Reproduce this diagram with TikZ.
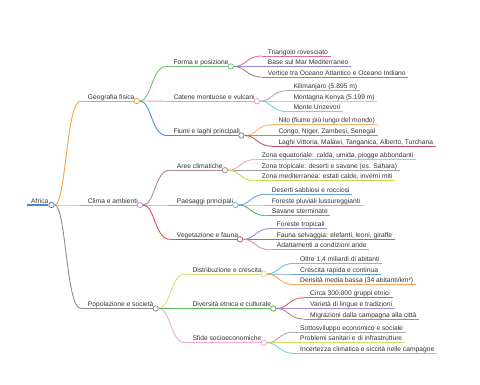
\documentclass[tikz,border=0pt]{standalone}
\usepackage{fontspec}
\setmainfont{Liberation Sans}
\usetikzlibrary{calc}
\definecolor{txt}{HTML}{333333}
\definecolor{cRoot}{HTML}{4A86C8}
\definecolor{cGeo}{HTML}{F4A442}
\definecolor{cCli}{HTML}{C49BD9}
\definecolor{cPop}{HTML}{8C8C8C}
\definecolor{cFor}{HTML}{72C070}
\definecolor{cCat}{HTML}{E89AD8}
\definecolor{cFiu}{HTML}{4C8FD0}
\definecolor{cAre}{HTML}{B08890}
\definecolor{cPae}{HTML}{5CC8E0}
\definecolor{cVeg}{HTML}{D9534F}
\definecolor{cDis}{HTML}{D8E07A}
\definecolor{cDiv}{HTML}{5CB85C}
\definecolor{cSfi}{HTML}{F0A8D8}
\definecolor{lA}{HTML}{E0708A}
\definecolor{lB}{HTML}{9D86D8}
\definecolor{lC}{HTML}{A08585}
\definecolor{lD}{HTML}{AAAAAA}
\definecolor{lE}{HTML}{D2D86A}
\definecolor{lF}{HTML}{70D8E0}
\definecolor{lG}{HTML}{F6B46E}
\definecolor{lH}{HTML}{5CB85C}
\definecolor{lI}{HTML}{C8506A}
\definecolor{lJ}{HTML}{F2A6C8}
\definecolor{lK}{HTML}{9E9E9E}
\definecolor{lL}{HTML}{C8DC50}
\definecolor{lM}{HTML}{6AA4DC}
\definecolor{lN}{HTML}{F5A35A}
\definecolor{lO}{HTML}{5CB85C}
\definecolor{lP}{HTML}{9C8FDC}
\definecolor{lQ}{HTML}{A0708C}
\definecolor{lR}{HTML}{E58AA8}
\definecolor{lS}{HTML}{5FC9E3}
\definecolor{lT}{HTML}{6A9EC8}
\definecolor{lU}{HTML}{F6A860}
\definecolor{lV}{HTML}{E05A64}
\definecolor{lW}{HTML}{A88AD8}
\definecolor{lX}{HTML}{A48898}
\definecolor{lY}{HTML}{ABABAB}
\definecolor{lZ}{HTML}{D4DE62}
\definecolor{lAA}{HTML}{72D2E4}
\tikzset{
  lbl/.style={font=\fontsize{6.7}{8}\selectfont, text=txt, inner sep=0pt, anchor=base west},
  dot/.style={circle, draw=#1, fill=white, inner sep=0pt, minimum size=5.4pt, line width=0.8pt},
  ln/.style={draw=#1, line width=0.9pt},
}
% name, textx, liney, circx, color, text
\newcommand{\mmnode}[6]{%
  \coordinate (#1s) at (#2-7,#3);
  \node[lbl] (#1t) at (#2,#3-2.0) {#6};
  \node[dot=#5] (#1) at (#4,#3) {};
  \draw[ln=#5] (#1s) -- (#1);
}
% name, textx, liney, color, text
\newcommand{\mmleaf}[5]{%
  \coordinate (#1s) at (#2-6.2,#3);
  \node[lbl] (#1t) at (#2,#3-2.0) {#5};
  \coordinate (#1e) at ($(#1t.east |- #1s)+(2.5,0)$);
  \draw[ln=#4] (#1s) -- (#1e);
}
% from, to, color
\newcommand{\mmlink}[3]{%
  \coordinate (mmm) at ($(#1)!0.5!(#2s)$);
  \draw[ln=#3] (#1) .. controls (mmm |- #1) and (mmm |- #2s) .. (#2s);
}
\begin{document}
\begin{tikzpicture}[x=1pt,y=-1pt]
\useasboundingbox (0,0) rectangle (480,384);
% root
\coordinate (roots) at (27.3,205);
\node[lbl] (roott) at (31,203) {Africa};
\node[dot=cRoot] (root) at (51.5,205) {};
\draw[ln=cRoot, line width=1.2pt] (roots) -- (root);
% level 1
\mmnode{geo}{87.7}{101}{136.7}{cGeo}{Geografia fisica}
\mmnode{cli}{87.7}{205}{140}{cCli}{Clima e ambienti}
\mmnode{pop}{87.7}{308.4}{155.7}{cPop}{Popolazione e società}
\mmlink{root}{geo}{cGeo}
\mmlink{root}{cli}{cCli}
\mmlink{root}{pop}{cPop}
% level 2 geo
\mmnode{for}{173.3}{66.5}{230.7}{cFor}{Forma e posizione}
\mmnode{cat}{173.3}{101.2}{256.9}{cCat}{Catene montuose e vulcani}
\mmnode{fiu}{173.3}{135.5}{241.4}{cFiu}{Fiumi e laghi principali}
\mmlink{geo}{for}{cFor}
\mmlink{geo}{cat}{cCat}
\mmlink{geo}{fiu}{cFiu}
% level 2 clima
\mmnode{are}{176.7}{170.2}{225}{cAre}{Aree climatiche}
\mmnode{pae}{176.7}{205}{235.3}{cPae}{Paesaggi principali}
\mmnode{veg}{176.7}{239.3}{240}{cVeg}{Vegetazione e fauna}
\mmlink{cli}{are}{cAre}
\mmlink{cli}{pae}{cPae}
\mmlink{cli}{veg}{cVeg}
% level 2 pop
\mmnode{dis}{192.3}{274}{263.7}{cDis}{Distribuzione e crescita}
\mmnode{div}{192.3}{308.5}{273.3}{cDiv}{Diversità etnica e culturale}
\mmnode{sfi}{192.3}{342.8}{263.7}{cSfi}{Sfide socioeconomiche}
\mmlink{pop}{dis}{cDis}
\mmlink{pop}{div}{cDiv}
\mmlink{pop}{sfi}{cSfi}
% leaves forma
\mmleaf{a1}{267.7}{56}{lA}{Triangolo rovesciato}
\mmleaf{a2}{267.7}{66.5}{lB}{Base sul Mar Mediterraneo}
\mmleaf{a3}{267.7}{77}{lC}{Vertice tra Oceano Atlantico e Oceano Indiano}
\mmlink{for}{a1}{lA}
\mmlink{for}{a2}{lB}
\mmlink{for}{a3}{lC}
% leaves catene
\mmleaf{b1}{293.3}{90.7}{lD}{Kilimanjaro (5.895 m)}
\mmleaf{b2}{293.3}{101.2}{lE}{Montagna Kenya (5.199 m)}
\mmleaf{b3}{293.3}{111.7}{lF}{Monte Unzevori}
\mmlink{cat}{b1}{lD}
\mmlink{cat}{b2}{lE}
\mmlink{cat}{b3}{lF}
% leaves fiumi
\mmleaf{c1}{278.3}{124.8}{lG}{Nilo (fiume più lungo del mondo)}
\mmleaf{c2}{278.3}{135.5}{lH}{Congo, Niger, Zambesi, Senegal}
\mmleaf{c3}{278.3}{146.2}{lI}{Laghi Vittoria, Malawi, Tanganica, Alberto, Turchana}
\mmlink{fiu}{c1}{lG}
\mmlink{fiu}{c2}{lH}
\mmlink{fiu}{c3}{lI}
% leaves aree
\mmleaf{d1}{261.7}{159.5}{lJ}{Zona equatoriale: calda, umida, piogge abbondanti}
\mmleaf{d2}{261.7}{170.2}{lK}{Zona tropicale: deserti e savane (es. Sahara)}
\mmleaf{d3}{261.7}{180.9}{lL}{Zona mediterranea: estati calde, inverni miti}
\mmlink{are}{d1}{lJ}
\mmlink{are}{d2}{lK}
\mmlink{are}{d3}{lL}
% leaves paesaggi
\mmleaf{e1}{271.7}{194.3}{lM}{Deserti sabbiosi e rocciosi}
\mmleaf{e2}{271.7}{205}{lN}{Foreste pluviali lussureggianti}
\mmleaf{e3}{271.7}{215.5}{lO}{Savane sterminate}
\mmlink{pae}{e1}{lM}
\mmlink{pae}{e2}{lN}
\mmlink{pae}{e3}{lO}
% leaves vegetazione
\mmleaf{f1}{276.7}{228.6}{lP}{Foreste tropicali}
\mmleaf{f2}{276.7}{239.3}{lQ}{Fauna selvaggia: elefanti, leoni, giraffe}
\mmleaf{f3}{276.7}{249.9}{lR}{Adattamenti a condizioni aride}
\mmlink{veg}{f1}{lP}
\mmlink{veg}{f2}{lQ}
\mmlink{veg}{f3}{lR}
% leaves distribuzione
\mmleaf{g1}{300}{263.4}{lS}{Oltre 1,4 miliardi di abitanti}
\mmleaf{g2}{300}{274}{lT}{Crescita rapida e continua}
\mmleaf{g3}{300}{284.6}{lU}{Densità media bassa (34 abitanti/km²)}
\mmlink{dis}{g1}{lS}
\mmlink{dis}{g2}{lT}
\mmlink{dis}{g3}{lU}
% leaves diversita
\mmleaf{h1}{310}{297.8}{lV}{Circa 300.000 gruppi etnici}
\mmleaf{h2}{310}{308.5}{lW}{Varietà di lingue e tradizioni}
\mmleaf{h3}{310}{319}{lX}{Migrazioni dalla campagna alla città}
\mmlink{div}{h1}{lV}
\mmlink{div}{h2}{lW}
\mmlink{div}{h3}{lX}
% leaves sfide
\mmleaf{i1}{300}{332.2}{lY}{Sottosviluppo economico e sociale}
\mmleaf{i2}{300}{342.8}{lZ}{Problemi sanitari e di infrastrutture}
\mmleaf{i3}{300}{353.4}{lAA}{Incertezza climatica e siccità nelle campagne}
\mmlink{sfi}{i1}{lY}
\mmlink{sfi}{i2}{lZ}
\mmlink{sfi}{i3}{lAA}
\end{tikzpicture}
\end{document}
